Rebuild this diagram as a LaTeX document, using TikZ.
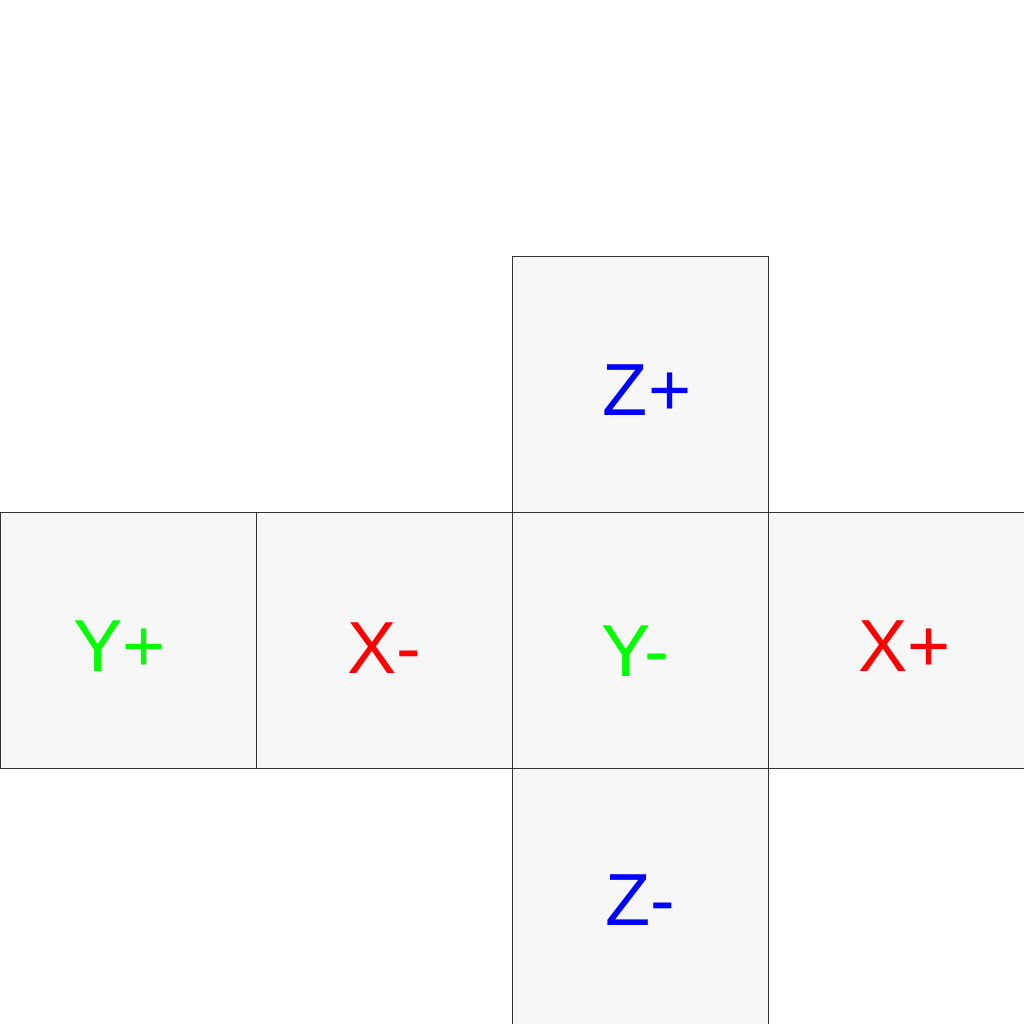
\documentclass[tikz,border=0pt]{standalone}
\usepackage{fontspec}
\setmainfont{Liberation Sans}
\usepackage{tikz}
\usetikzlibrary{positioning}
\usepackage{xcolor}
\definecolor{facegray}{HTML}{F7F7F7}
\definecolor{edgegray}{HTML}{333333}
\definecolor{xaxis}{HTML}{FF0000}
\definecolor{yaxis}{HTML}{00FF00}
\definecolor{zaxis}{HTML}{0000FF}

\begin{document}
\begin{tikzpicture}[
  face/.style={draw=edgegray, fill=facegray, line width=0.25pt,
               minimum size=2.56cm, inner sep=0pt},
  tag/.style={font=\fontsize{21}{25}\selectfont, inner sep=0pt}
]
  \useasboundingbox (0,0) rectangle (10.24,10.24);

  % Faces of the unfolded cube
  \node[face] (yp) at (1.28, 3.84) {};
  \node[face] (xm) at (3.84, 3.84) {};
  \node[face] (ym) at (6.40, 3.84) {};
  \node[face] (xp) at (8.96, 3.84) {};
  \node[face] (zp) at (6.40, 6.40) {};
  \node[face] (zm) at (6.40, 1.28) {};

  % Face labels
  \node[tag, text=yaxis] (lyp) at (1.195, 3.775) {Y+};
  \node[tag, text=xaxis] (lxm) at (3.840, 3.755) {X-};
  \node[tag, text=yaxis] (lym) at (6.355, 3.730) {Y-};
  \node[tag, text=xaxis] (lxp) at (9.045, 3.775) {X+};
  \node[tag, text=zaxis] (lzp) at (6.470, 6.340) {Z+};
  \node[tag, text=zaxis] (lzm) at (6.405, 1.235) {Z-};
\end{tikzpicture}
\end{document}
